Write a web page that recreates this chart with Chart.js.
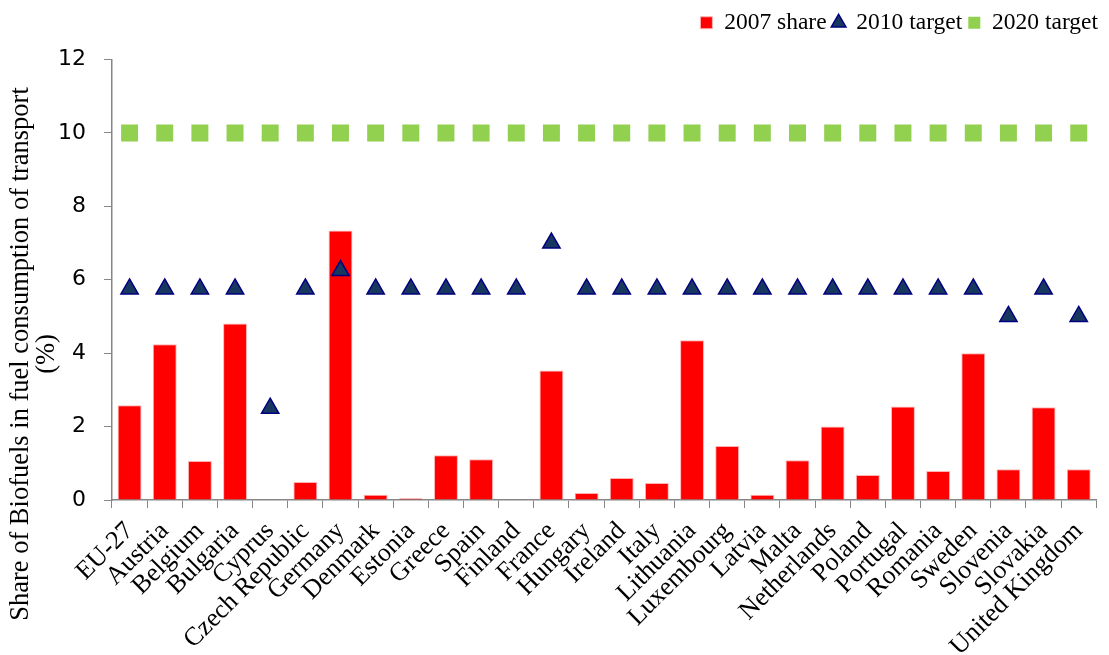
<!DOCTYPE html>
<html>
<head>
<meta charset="utf-8">
<script src="https://cdn.jsdelivr.net/npm/chart.js@4.4.1/dist/chart.umd.min.js"></script>
<style>
  html, body { margin: 0; padding: 0; background: #ffffff; }
  #wrap { width: 1109px; height: 655px; position: relative; }
</style>
</head>
<body>
<div id="wrap"><canvas id="c" width="1109" height="655"></canvas></div>
<script>
const categories = ["EU-27","Austria","Belgium","Bulgaria","Cyprus","Czech Republic","Germany","Denmark","Estonia","Greece","Spain","Finland","France","Hungary","Ireland","Italy","Lithuania","Luxembourg","Latvia","Malta","Netherlands","Poland","Portugal","Romania","Sweden","Slovenia","Slovakia","United Kingdom"];
const share2007 = [2.58,4.24,1.06,4.81,0,0.49,7.34,0.14,0.05,1.22,1.11,0,3.53,0.19,0.60,0.46,4.35,1.47,0.14,1.08,2.0,0.68,2.55,0.79,4.0,0.84,2.53,0.84];
const target2010 = [5.75,5.75,5.75,5.75,2.5,5.75,6.25,5.75,5.75,5.75,5.75,5.75,7.0,5.75,5.75,5.75,5.75,5.75,5.75,5.75,5.75,5.75,5.75,5.75,5.75,5.0,5.75,5.0];
const target2020 = [10,10,10,10,10,10,10,10,10,10,10,10,10,10,10,10,10,10,10,10,10,10,10,10,10,10,10,10];
const yTicks = [0,2,4,6,8,10,12];
const yTitleLines = ["Share of Biofuels in fuel consumption of transport", "(%)"];

const serif = "'Liberation Serif', 'Times New Roman', serif";
const sans = "'DejaVu Sans', Verdana, sans-serif";
const axisGray = '#868686';

const yTitlePlugin = {
  id: 'yTitle',
  beforeLayout(chart) {
    const lg = chart.legend;
    if (lg && !lg._extraWrapped) {
      const f = lg.fit.bind(lg);
      lg.fit = function () { f(); this.height += 15; };
      lg._extraWrapped = true;
    }
  },
  afterDraw(chart) {
    const ctx = chart.ctx;
    ctx.save();
    ctx.fillStyle = '#000';
    ctx.font = "26.5px " + serif;
    ctx.textAlign = 'center';
    ctx.textBaseline = 'middle';
    const xs = [21, 47];
    yTitleLines.forEach((t, i) => {
      ctx.save();
      ctx.translate(xs[i], 354);
      ctx.rotate(-Math.PI / 2);
      ctx.fillText(t, 0, 0);
      ctx.restore();
    });
    ctx.restore();
  }
};

new Chart(document.getElementById('c'), {
  data: {
    labels: categories,
    datasets: [
      {
        type: 'bar',
        label: '2007 share',
        data: share2007,
        backgroundColor: '#FF0000',
        borderColor: '#FFB3B3',
        borderWidth: 1,
        pointStyle: 'rect',
        categoryPercentage: 0.68,
        barPercentage: 1.0,
        order: 3
      },
      {
        type: 'line',
        label: '2010 target',
        data: target2010,
        showLine: false,
        pointStyle: 'triangle',
        pointRadius: 10,
        pointHoverRadius: 10,
        pointBackgroundColor: '#17375E',
        pointBorderColor: '#000080',
        pointBorderWidth: 1.5,
        backgroundColor: '#17375E',
        borderColor: '#000080',
        borderWidth: 1.5,
        order: 1
      },
      {
        type: 'line',
        label: '2020 target',
        data: target2020,
        showLine: false,
        pointStyle: 'rect',
        pointRadius: 12,
        pointHoverRadius: 12,
        pointBackgroundColor: '#92D050',
        pointBorderColor: '#92D050',
        pointBorderWidth: 0,
        backgroundColor: '#92D050',
        borderColor: '#92D050',
        borderWidth: 0,
        order: 2
      }
    ]
  },
  options: {
    responsive: false,
    animation: false,
    events: [],
    layout: { padding: { left: 0, right: 5, top: 5, bottom: 0 } },
    plugins: {
      tooltip: { enabled: false },
      legend: {
        position: 'top',
        align: 'end',
        labels: {
          usePointStyle: true,
          boxHeight: 12,
          boxWidth: 12,
          padding: 6,
          color: '#000',
          font: { family: serif, size: 23.5 },
          sort: (a, b) => a.datasetIndex - b.datasetIndex
        }
      }
    },
    scales: {
      x: {
        offset: true,
        grid: { display: true, offset: true, drawOnChartArea: false, drawTicks: true, tickLength: 8, color: axisGray },
        border: { color: axisGray, width: 1.5 },
        ticks: {
          autoSkip: false,
          minRotation: 45,
          maxRotation: 45,
          padding: 8,
          color: '#000',
          font: { family: serif, size: 26 }
        },
        afterFit(scale) { scale.height = 155; }
      },
      y: {
        min: 0,
        max: 12,
        grid: { display: true, drawOnChartArea: false, drawTicks: true, tickLength: 8, color: axisGray },
        border: { color: axisGray, width: 1.5 },
        afterBuildTicks(scale) { scale.ticks = yTicks.map(v => ({ value: v })); },
        ticks: {
          padding: 18,
          color: '#000',
          font: { family: sans, size: 22 }
        },
        afterFit(scale) { scale.width = 112; }
      }
    }
  },
  plugins: [yTitlePlugin]
});
</script>
</body>
</html>
